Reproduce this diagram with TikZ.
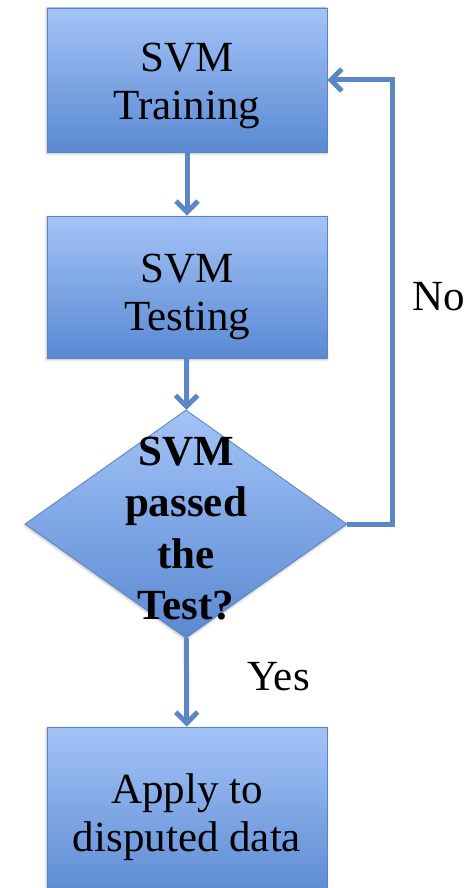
\documentclass[tikz,border=0pt]{standalone}
\usepackage{fontspec}
\setmainfont{Liberation Serif}
\usetikzlibrary{arrows.meta,shapes.geometric,shadows.blur}

\definecolor{fillTop}{HTML}{A3C3F7}
\definecolor{fillBottom}{HTML}{5A89D2}
\definecolor{edgeBlue}{HTML}{5884C2}
\definecolor{flowBlue}{HTML}{5B87C5}

% stacked, centred lines whose reference point is the first baseline
\newcommand{\stacklines}[1]{\begin{tabular}[t]{@{}c@{}}#1\end{tabular}}

\begin{document}
\begin{tikzpicture}[x=1pt,y=-1pt,
  softshadow/.style={blur shadow={shadow xshift=-0.5pt, shadow yshift=-1.5pt,
      shadow blur radius=2.5pt, shadow opacity=30}},
  stepbox/.style={rectangle, draw=edgeBlue, line width=0.8pt,
      top color=fillTop, bottom color=fillBottom,
      minimum width=280pt, minimum height=144pt, inner sep=0pt,
      text height=0pt, font=\fontsize{43}{48}\selectfont, softshadow},
  decision/.style={diamond, draw=edgeBlue, line width=0.8pt,
      top color=fillTop, bottom color=fillBottom,
      minimum width=322pt, minimum height=228pt, aspect=1.41, inner sep=0pt,
      text height=0pt, font=\fontsize{43}{51.5}\selectfont\bfseries, softshadow},
  flow/.style={draw=flowBlue, line width=5pt,
      -{Straight Barb[length=11pt,width=22pt]}},
  tag/.style={anchor=base west, inner sep=0pt, font=\fontsize{43}{48}\selectfont}]

\useasboundingbox (0,0) rectangle (475,888);
\clip (0,0) rectangle (475,888);

% process steps and the decision
\node[stepbox, text depth=16pt] (train) at (187,80) {\stacklines{SVM\\Training}};
\node[stepbox, minimum height=142pt, text depth=10pt] (test) at (187,287) {\stacklines{SVM\\Testing}};
\node[decision, text depth=118pt] (check) at (186,524)
  {\makebox[0pt]{\stacklines{SVM\\passed\\the\\Test?}}};
\node[stepbox, minimum height=174pt, text depth=21pt] (apply) at (187,814)
  {\stacklines{Apply to\\disputed data}};

% connectors
\draw[flow] (train) -- (test);
\draw[flow] (test) -- (check);
\draw[flow] (check) -- (apply);
\draw[flow] (check.east) -- ++(45,0) |- (train.east);

% branch labels
\node[tag] (no) at (412,310) {No};
\node[tag] (yes) at (247,690) {Yes};
\end{tikzpicture}
\end{document}
